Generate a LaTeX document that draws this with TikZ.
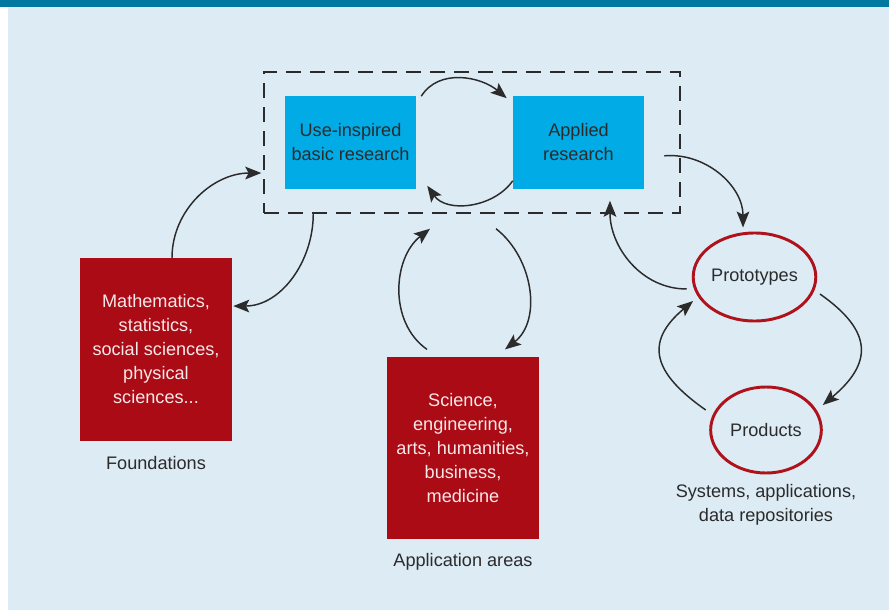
\documentclass[tikz,border=0pt]{standalone}
\usepackage{fontspec}
\setmainfont{Liberation Sans}
\usetikzlibrary{shapes.geometric,arrows.meta,calc}
\definecolor{bgblue}{HTML}{DCEBF4}
\definecolor{barteal}{HTML}{0079A1}
\definecolor{boxblue}{HTML}{00ABE6}
\definecolor{boxred}{HTML}{AA0B14}
\definecolor{ringred}{HTML}{B0121B}
\definecolor{txtdark}{HTML}{2B2B2B}
\definecolor{txtlight}{HTML}{F7E8EA}
\tikzset{
  txt/.style={font=\fontsize{13.6pt}{18pt}\selectfont, align=center, text=txtdark},
  bluebox/.style={txt, fill=boxblue, minimum width=98.25pt, minimum height=69pt, inner sep=0pt},
  redbox/.style={txt, fill=boxred, text=txtlight, minimum width=114pt, minimum height=137pt, inner sep=0pt},
  ring/.style={txt, ellipse, draw=ringred, line width=2.2pt, inner sep=0pt},
  grpbox/.style={draw=txtdark, line width=1.1pt, dash pattern=on 11pt off 7pt, minimum width=312pt, minimum height=105.75pt, inner sep=0pt},
  arr/.style={draw=txtdark, line width=1.1pt, -{Stealth[length=12pt,width=9.5pt,inset=2.5pt]}},
  lbl/.style={txt}
}
\begin{document}
\begin{tikzpicture}[x=0.75pt,y=-0.75pt]
% background
\fill[white] (0,0) rectangle (889,610);
\fill[bgblue] (8,0) rectangle (889,610);
\fill[barteal] (0,0) rectangle (889,7);
\useasboundingbox (0,0) rectangle (889,610);

% group and boxes
\node[grpbox] (grp) at (472,142.5) {};
\node[bluebox] (ubr) at (350.5,142.5) {Use-inspired\\basic research};
\node[bluebox] (ar) at (578.5,142.5) {Applied\\research};

\node[redbox] (found) at (156,349.5) {Mathematics,\\statistics,\\social sciences,\\physical\\sciences...};
\node[lbl] (foundl) at (156,463) {Foundations};

\node[redbox] (appl) at (463,448) {Science,\\engineering,\\arts, humanities,\\business,\\medicine};
\node[lbl] (appll) at (463,562) {Application areas};

\node[ring, minimum width=84pt, minimum height=66pt] (proto) at (754.5,277) {Prototypes};
\node[ring, minimum width=83pt, minimum height=64.5pt] (prod) at (766,430) {Products};
\node[lbl] (prodl) at (766,505) {Systems, applications,\\data repositories};

% connectors inside group
\draw[arr] ([xshift=3.75pt]ubr.north east) to[out=58,in=140] ([xshift=-4.5pt,yshift=-1.5pt]ar.north west);
\draw[arr] ([yshift=6pt]ar.south west) to[out=-125,in=-55] ([xshift=8.25pt,yshift=2.25pt]ubr.south east);

% foundations
\draw[arr] ([xshift=12pt]found.north) to[out=90,in=180] ([xshift=-1.5pt,yshift=-22.9pt]grp.west);
\draw[arr] ([xshift=37.5pt]grp.south west) to[out=-90,in=0] ([xshift=0.75pt,yshift=32.6pt]found.east);

% application areas
\draw[arr] ([xshift=-27pt,yshift=5.25pt]appl.north) to[out=145,in=-142] ([xshift=-31.5pt,yshift=-11.25pt]grp.south);
\draw[arr] ([xshift=18pt,yshift=-11.25pt]grp.south) to[out=-38,in=38] ([xshift=31.5pt,yshift=5.25pt]appl.north);

% prototypes / products
\draw[arr] ([xshift=15pt,yshift=-10pt]ar.east) to[out=5,in=90] ([xshift=-8.6pt,yshift=3pt]proto.north);
\draw[arr] ([xshift=-3.75pt,yshift=-9pt]proto.west) to[out=180,in=-90] ([xshift=23.6pt,yshift=-9pt]ar.south);
\draw[arr] ([xshift=2pt,yshift=-12.75pt]proto.east) to[out=-35,in=40,looseness=1.5] ([yshift=18.75pt]prod.east);
\draw[arr] ([xshift=-2.6pt,yshift=15pt]prod.west) to[out=145,in=-140,looseness=1.5] ([xshift=1pt,yshift=-18pt]proto.west);
\end{tikzpicture}
\end{document}
